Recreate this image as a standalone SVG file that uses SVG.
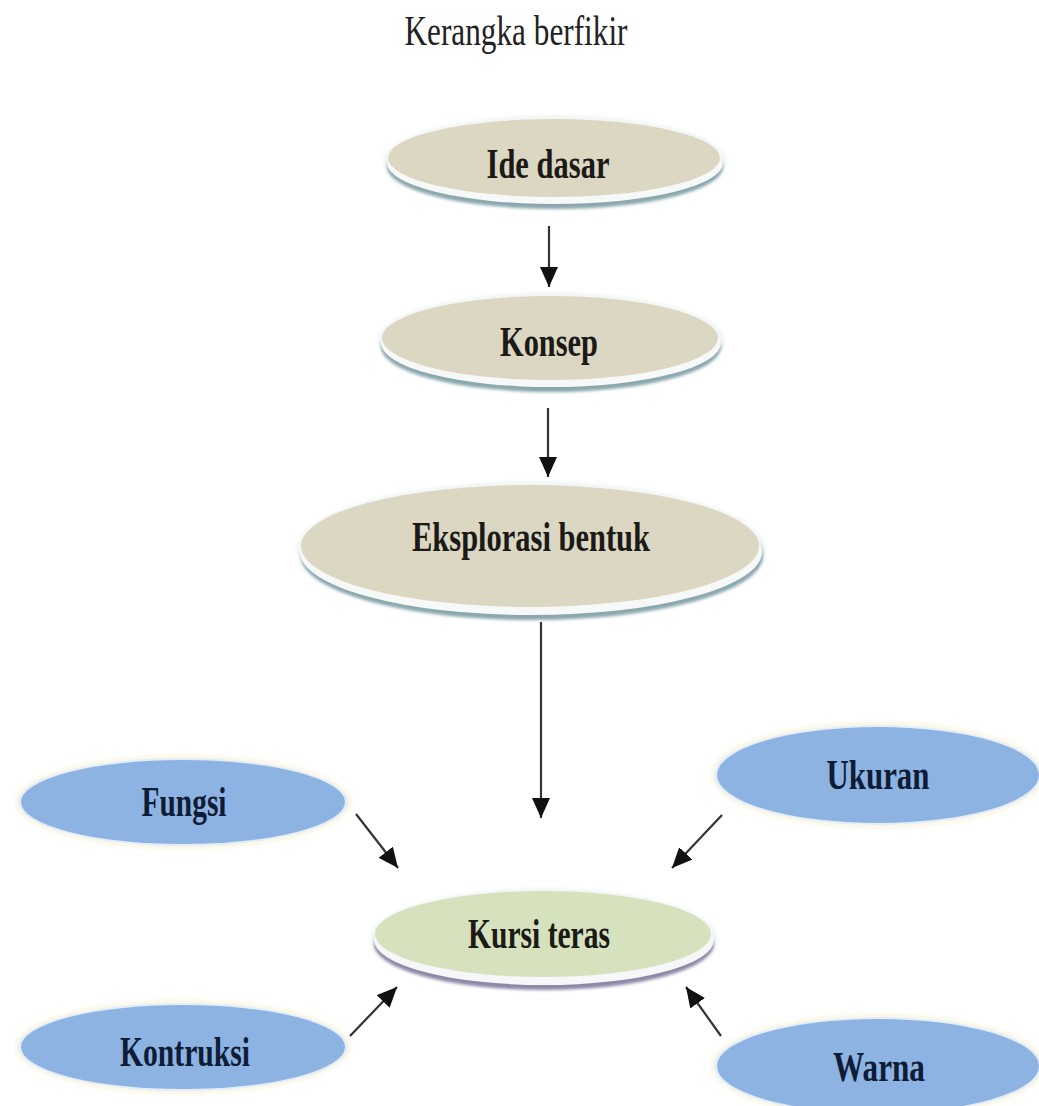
<svg xmlns="http://www.w3.org/2000/svg" width="1039" height="1106" viewBox="0 0 1039 1106">
<defs>
<style>
.lbl{font-family:"Liberation Serif","Times New Roman",serif;font-weight:bold;font-size:43px;text-anchor:middle}
.dark{fill:#1b1a16}
.navy{fill:#0f1c36}
.title{font-family:"Liberation Serif","Times New Roman",serif;font-size:42px;text-anchor:middle;fill:#222}
.beige{fill:#dcd7c2}
.green{fill:#d6e2bd}
.blue{fill:#8db3e2}
.rimB{fill:#8aa7ae}
.rimP{fill:#8c88a6}
.halo{fill:#f3f6f6}
.haloY{fill:#fbf8ea}
.conn{stroke:#333;stroke-width:2.2;fill:none}
</style>
<filter id="soft" x="-10%" y="-20%" width="120%" height="140%"><feGaussianBlur stdDeviation="1.5"/></filter>
<marker id="ah" markerUnits="userSpaceOnUse" markerWidth="22" markerHeight="18" refX="20" refY="9" orient="auto">
<path d="M0,0 L20,9 L0,18 Z" fill="#111"/>
</marker>
</defs>
<rect width="1039" height="1106" fill="#fff"/>
<text class="title" x="516" y="45" textLength="223" lengthAdjust="spacingAndGlyphs">Kerangka berfikir</text>

<g id="ide-dasar">
<ellipse cx="555" cy="161" rx="172" ry="46" class="halo" filter="url(#soft)"/>
<ellipse cx="555" cy="167" rx="168" ry="42" class="rimB" filter="url(#soft)"/>
<ellipse cx="555" cy="163" rx="168" ry="41" fill="#f7f9f9"/>
<ellipse cx="554" cy="158" rx="166" ry="39" class="beige"/>
<text class="lbl dark" x="548" y="178" textLength="123" lengthAdjust="spacingAndGlyphs">Ide dasar</text>
</g>

<g id="konsep">
<ellipse cx="551" cy="341" rx="174" ry="49" class="halo" filter="url(#soft)"/>
<ellipse cx="551" cy="347" rx="170" ry="45" class="rimB" filter="url(#soft)"/>
<ellipse cx="551" cy="343" rx="170" ry="44" fill="#f7f9f9"/>
<ellipse cx="550" cy="338" rx="168" ry="42" class="beige"/>
<text class="lbl dark" x="549" y="356" textLength="98" lengthAdjust="spacingAndGlyphs">Konsep</text>
</g>

<g id="eksplorasi-bentuk">
<ellipse cx="531" cy="550" rx="235" ry="69" class="halo" filter="url(#soft)"/>
<ellipse cx="532" cy="556" rx="231" ry="64" class="rimB" filter="url(#soft)"/>
<ellipse cx="531" cy="552" rx="231" ry="63" fill="#f7f9f9"/>
<ellipse cx="530" cy="546" rx="229" ry="61" class="beige"/>
<text class="lbl dark" x="531" y="551" textLength="238" lengthAdjust="spacingAndGlyphs">Eksplorasi bentuk</text>
</g>

<g id="kursi-teras">
<ellipse cx="544" cy="938" rx="174" ry="50" class="halo" filter="url(#soft)"/>
<ellipse cx="544" cy="944" rx="170" ry="46" class="rimP" filter="url(#soft)"/>
<ellipse cx="544" cy="940" rx="170" ry="45" fill="#f7f7f9"/>
<ellipse cx="543" cy="934" rx="168" ry="43" class="green"/>
<text class="lbl dark" x="539" y="948" textLength="142" lengthAdjust="spacingAndGlyphs">Kursi teras</text>
</g>

<g id="fungsi">
<ellipse cx="183" cy="802" rx="169" ry="48" class="haloY" filter="url(#soft)"/>
<ellipse cx="183" cy="802" rx="165" ry="44" fill="#e4eef8"/>
<ellipse cx="183" cy="802" rx="162" ry="42" class="blue"/>
<text class="lbl navy" x="184" y="816" textLength="85" lengthAdjust="spacingAndGlyphs">Fungsi</text>
</g>

<g id="ukuran">
<ellipse cx="878" cy="775" rx="168" ry="54" class="haloY" filter="url(#soft)"/>
<ellipse cx="878" cy="775" rx="164" ry="50" fill="#e4eef8"/>
<ellipse cx="878" cy="775" rx="161" ry="48" class="blue"/>
<text class="lbl navy" x="878" y="789" textLength="103" lengthAdjust="spacingAndGlyphs">Ukuran</text>
</g>

<g id="kontruksi">
<ellipse cx="183" cy="1047" rx="169" ry="48" class="haloY" filter="url(#soft)"/>
<ellipse cx="183" cy="1047" rx="165" ry="44" fill="#e4eef8"/>
<ellipse cx="183" cy="1047" rx="162" ry="42" class="blue"/>
<text class="lbl navy" x="185" y="1066" textLength="130" lengthAdjust="spacingAndGlyphs">Kontruksi</text>
</g>

<g id="warna">
<ellipse cx="878" cy="1066" rx="168" ry="53" class="haloY" filter="url(#soft)"/>
<ellipse cx="878" cy="1066" rx="164" ry="49" fill="#e4eef8"/>
<ellipse cx="878" cy="1066" rx="161" ry="47" class="blue"/>
<text class="lbl navy" x="879" y="1081" textLength="92" lengthAdjust="spacingAndGlyphs">Warna</text>
</g>

<g id="connectors">
<line class="conn" x1="549" y1="226" x2="549" y2="287" marker-end="url(#ah)"/>
<line class="conn" x1="548" y1="408" x2="548" y2="477" marker-end="url(#ah)"/>
<line class="conn" x1="541" y1="622" x2="541" y2="818" marker-end="url(#ah)"/>
<line class="conn" x1="356" y1="814" x2="398" y2="868" marker-end="url(#ah)"/>
<line class="conn" x1="722" y1="815" x2="672" y2="868" marker-end="url(#ah)"/>
<line class="conn" x1="350" y1="1036" x2="397" y2="987" marker-end="url(#ah)"/>
<line class="conn" x1="721" y1="1036" x2="686" y2="987" marker-end="url(#ah)"/>
</g>
</svg>
